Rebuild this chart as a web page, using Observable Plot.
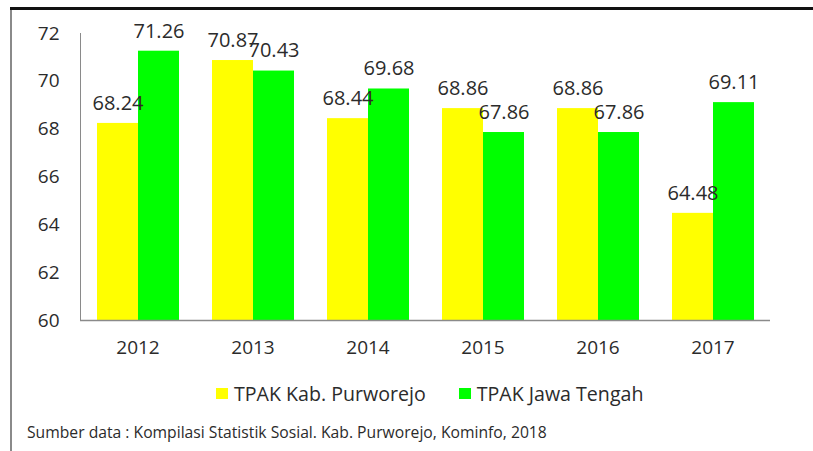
<!DOCTYPE html>
<html>
<head>
<meta charset="utf-8">
<script src="https://cdn.jsdelivr.net/npm/d3@7"></script>
<script src="https://cdn.jsdelivr.net/npm/@observablehq/plot@0.6"></script>
<style>
  html, body { margin: 0; padding: 0; background: #fff; }
  #wrap { position: relative; width: 813px; height: 451px; overflow: hidden; font-family: "Open Sans", sans-serif; color: #2b2b2b; }
  #topline { position: absolute; left: 10px; top: 7px; width: 803px; height: 3px; background: #111; }
  #leftline { position: absolute; left: 10px; top: 10px; width: 2px; height: 441px; background: #8a8a8a; }
  #chart { position: absolute; left: 0; top: 0; }
  #chart svg text { fill: #2b2b2b; }
  #legend { position: absolute; top: 380px; left: 216px; display: flex; gap: 33px; font-size: 19.6px; }
  .item { display: flex; align-items: center; }
  .sw { width: 12px; height: 11px; margin-right: 6px; }
  #caption { position: absolute; left: 27px; top: 421px; font-size: 15.7px; }
</style>
</head>
<body>
<div id="wrap">
  <div id="topline"></div>
  <div id="leftline"></div>
  <div id="chart"></div>
  <div id="legend"></div>
  <div id="caption">Sumber data : Kompilasi Statistik Sosial. Kab. Purworejo, Kominfo, 2018</div>
</div>
<script>
const years = ["2012", "2013", "2014", "2015", "2016", "2017"];
const seriesNames = ["TPAK Kab. Purworejo", "TPAK Jawa Tengah"];
const purworejo = [68.24, 70.87, 68.44, 68.86, 68.86, 64.48];
const jawaTengah = [71.26, 70.43, 69.68, 67.86, 67.86, 69.11];
const colors = ["#ffff00", "#00ff00"];
const yTicks = [60, 62, 64, 66, 68, 70, 72];

const rows = [];
years.forEach((y, i) => {
  rows.push({year: y, series: seriesNames[0], value: purworejo[i]});
  rows.push({year: y, series: seriesNames[1], value: jawaTengah[i]});
});

const plot = Plot.plot({
  width: 813,
  height: 370,
  marginLeft: 78,
  marginRight: 42,
  marginTop: 33,
  marginBottom: 50,
  style: {fontFamily: "Open Sans, sans-serif", fontSize: "19px", color: "#8a8a8a", background: "transparent"},
  facet: {data: rows, x: "year"},
  fx: {domain: years, padding: 0, axis: "bottom", label: null, tickSize: 0, tickPadding: 20},
  x: {domain: seriesNames, paddingInner: 0, paddingOuter: 0.4, axis: null},
  y: {domain: [60, 72], ticks: yTicks, tickSize: 0, tickPadding: 21, label: null, line: true},
  color: {domain: seriesNames, range: colors},
  marks: [
    Plot.barY(rows, {x: "series", y1: 60, y2: "value", fill: "series"}),
    Plot.ruleY([60], {stroke: "#8a8a8a", strokeWidth: 1.5}),
    Plot.text(rows, {x: "series", y: "value", text: d => d.value.toFixed(2), dy: -20, fontSize: 20, fill: "#2b2b2b"})
  ]
});
document.getElementById("chart").appendChild(plot);

const legend = document.getElementById("legend");
seriesNames.forEach((s, i) => {
  const item = document.createElement("div");
  item.className = "item";
  const sw = document.createElement("span");
  sw.className = "sw";
  sw.style.background = colors[i];
  const t = document.createElement("span");
  t.textContent = s;
  item.appendChild(sw);
  item.appendChild(t);
  legend.appendChild(item);
});
</script>
</body>
</html>
